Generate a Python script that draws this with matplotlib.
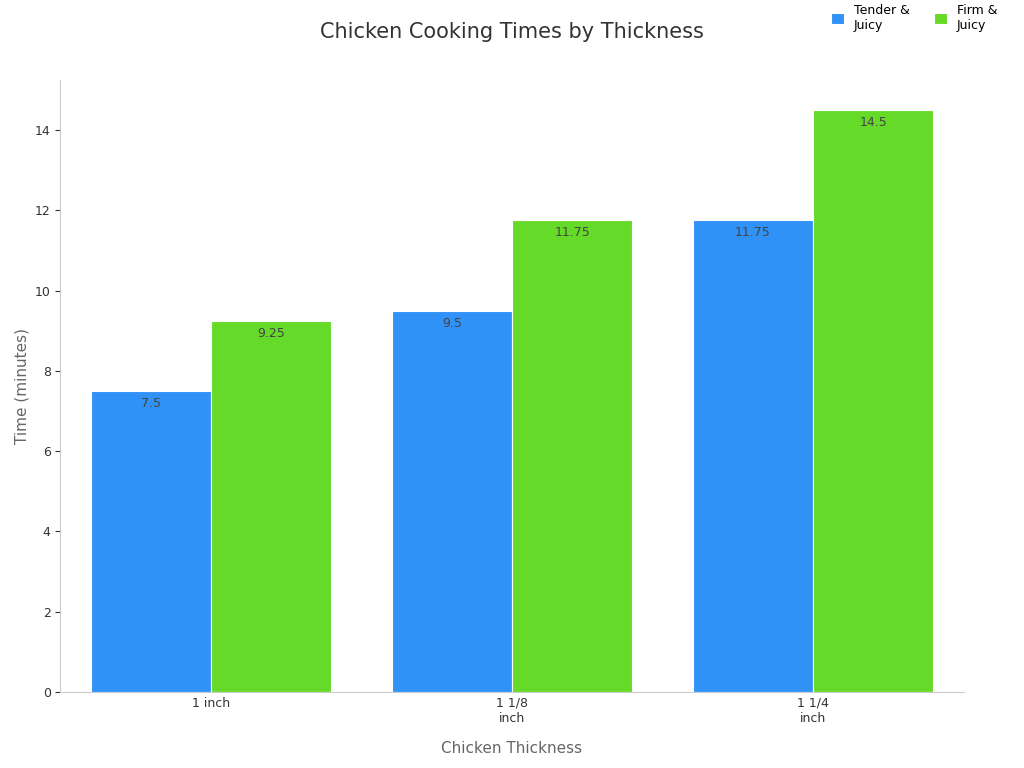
import matplotlib
matplotlib.use("Agg")
import matplotlib.pyplot as plt
import numpy as np

categories = ["1 inch", "1 1/8\ninch", "1 1/4\ninch"]
tender = [7.5, 9.5, 11.75]
firm = [9.25, 11.75, 14.5]
series_labels = ["Tender &\nJuicy", "Firm &\nJuicy"]
colors = ["#3092F7", "#66DA29"]

fig = plt.figure(figsize=(10.24, 7.68), dpi=100)
ax = fig.add_axes([0.059, 0.099, 0.882, 0.797])

x = np.arange(len(categories))
w = 0.4
for i, (vals, lab, c) in enumerate(zip([tender, firm], series_labels, colors)):
    bars = ax.bar(x + (i - 0.5) * w, vals, w, color=c, edgecolor="white", linewidth=0.8, label=lab)
    for b, v in zip(bars, vals):
        ax.text(b.get_x() + b.get_width() / 2, v - 0.15, f"{v:g}", ha="center", va="top",
                fontsize=9, color="#444444")

ax.set_xlim(-0.5, 2.5)
ax.set_ylim(0, 15.25)
ax.set_yticks(range(0, 15, 2))
ax.set_xticks(x)
ax.set_xticklabels(categories, fontsize=9, color="#333333")
ax.tick_params(axis="y", labelsize=9, colors="#333333")
ax.tick_params(axis="x", length=0)
for s in ["top", "right"]:
    ax.spines[s].set_visible(False)
for s in ["left", "bottom"]:
    ax.spines[s].set_color("#cccccc")
ax.set_xlabel("Chicken Thickness", fontsize=11, color="#666666", labelpad=12)
ax.set_ylabel("Time (minutes)", fontsize=11, color="#666666")
fig.suptitle("Chicken Cooking Times by Thickness", fontsize=15, color="#333333", x=0.5, y=0.972)
ax.legend(loc="upper right", bbox_to_anchor=(0.985, 1.01), bbox_transform=fig.transFigure,
          ncol=2, frameon=False, fontsize=9, handlelength=1, handleheight=1, markerfirst=True)

fig.savefig("out.png", dpi=100)
